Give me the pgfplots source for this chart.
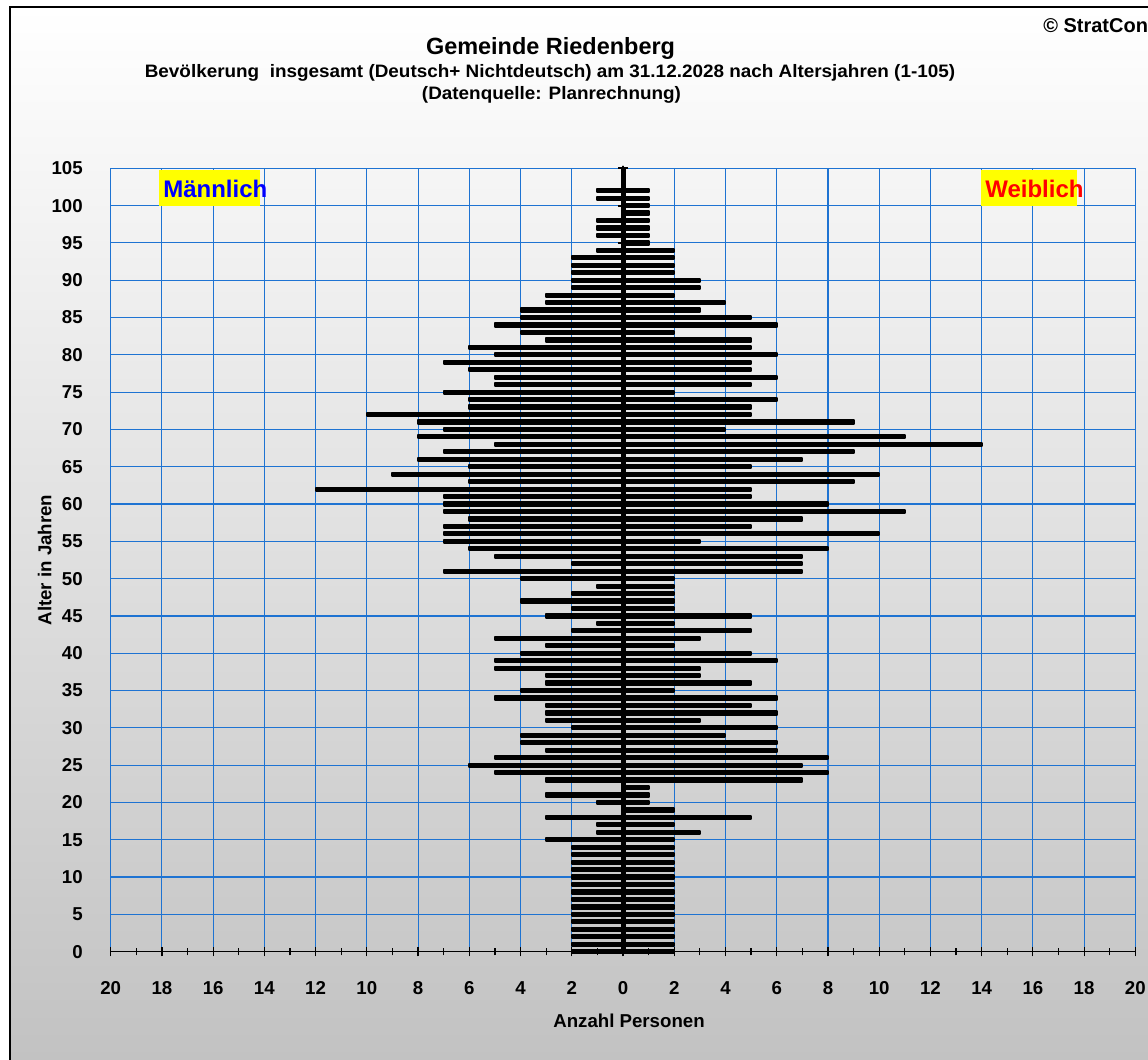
\documentclass[border=0pt]{standalone}
\usepackage{fontspec}
\setmainfont{Liberation Sans}
\usepackage{pgfplots}
\usepackage{pgfplotstable}
\pgfplotsset{compat=1.18}
\definecolor{gridblue}{RGB}{30,115,210}
\definecolor{bgbot}{RGB}{194,194,194}
\definecolor{manblue}{RGB}{0,0,255}
\definecolor{womred}{RGB}{255,0,0}
\definecolor{labyellow}{RGB}{255,255,0}

\pgfplotstableread{
age m f
0 2 2
1 2 2
2 2 2
3 2 2
4 2 2
5 2 2
6 2 2
7 2 2
8 2 2
9 2 2
10 2 2
11 2 2
12 2 2
13 2 2
14 2 2
15 3 2
16 1 3
17 1 2
18 3 5
19 0 2
20 1 1
21 3 1
22 0 1
23 3 7
24 5 8
25 6 7
26 5 8
27 3 6
28 4 6
29 4 4
30 2 6
31 3 3
32 3 6
33 3 5
34 5 6
35 4 2
36 3 5
37 3 3
38 5 3
39 5 6
40 4 5
41 3 2
42 5 3
43 2 5
44 1 2
45 3 5
46 2 2
47 4 2
48 2 2
49 1 2
50 4 2
51 7 7
52 2 7
53 5 7
54 6 8
55 7 3
56 7 10
57 7 5
58 6 7
59 7 11
60 7 8
61 7 5
62 12 5
63 6 9
64 9 10
65 6 5
66 8 7
67 7 9
68 5 14
69 8 11
70 7 4
71 8 9
72 10 5
73 6 5
74 6 6
75 7 2
76 5 5
77 5 6
78 6 5
79 7 5
80 5 6
81 6 5
82 3 5
83 4 2
84 5 6
85 4 5
86 4 3
87 3 4
88 3 2
89 2 3
90 2 3
91 2 2
92 2 2
93 2 2
94 1 2
95 0 1
96 1 1
97 1 1
98 1 1
99 0 1
100 0 1
101 1 1
102 1 1
103 0 0
104 0 0
105 0 0
}\pyramid

\begin{document}
\begin{tikzpicture}
\useasboundingbox (0,0) rectangle (861pt,794.25pt);
\clip (0,0) rectangle (861pt,794.25pt);
\fill[white] (0,0) rectangle (861pt,794.25pt);
\shade[top color=white, bottom color=bgbot] (7.5pt,-1pt) rectangle (870pt,789pt);
\draw[black, line width=2.2pt] (7.5pt,-5pt) -- (7.5pt,789pt) -- (870pt,789pt);

\begin{axis}[
  at={(83pt,80.5pt)}, anchor=south west,
  scale only axis, width=768.5pt, height=587.5pt,
  xmin=-20, xmax=20, ymin=0, ymax=105,
  axis x line*=bottom, axis y line*=left,
  y axis line style={draw=none},
  x axis line style={black, line width=1.1pt},
  xtick={-20,-18,...,20},
  xticklabels={20,18,16,14,12,10,8,6,4,2,0,2,4,6,8,10,12,14,16,18,20},
  minor x tick num=1,
  ytick={0,5,...,105},
  tick align=center,
  major tick length=7pt, minor tick length=5.5pt,
  xtick style={black, line width=0.9pt},
  ytick style={draw=none},
  grid=major,
  major grid style={gridblue, line width=0.85pt},
  /pgf/number format/assume math mode=true,
  tick label style={font=\bfseries\fontsize{14}{16}\selectfont},
  xticklabel style={anchor=north, inner sep=0pt, yshift=-18.5pt},
  yticklabel style={anchor=east, inner sep=0pt, xshift=-17.3pt},
  xlabel={Anzahl Personen},
  ylabel={Alter in Jahren},
  label style={font=\bfseries\fontsize{14}{16}\selectfont},
  xlabel style={at={(axis description cs:0.5,0)}, anchor=base, yshift=-57pt, xshift=4.5pt},
  ylabel style={at={(axis description cs:0,0.5)}, anchor=center, yshift=49.5pt},
  clip=false,
]
\addplot[xbar, bar width=2.4pt, bar shift=0pt, fill=black, draw=black, line width=1.5pt, line join=round]
  table[x expr=-\thisrow{m}, y=age] {\pyramid};
\addplot[xbar, bar width=2.4pt, bar shift=0pt, fill=black, draw=black, line width=1.5pt, line join=round]
  table[x=f, y=age] {\pyramid};
\addplot[black, line width=3.75pt] coordinates {(0,0) (0,105)};
\addplot[only marks, mark=-, mark size=4pt, mark options={black, line width=1.6pt}]
  coordinates {(0,0) (0,5) (0,10) (0,15) (0,20) (0,25) (0,30) (0,35) (0,40) (0,45) (0,50) (0,55) (0,60) (0,65) (0,70) (0,75) (0,80) (0,85) (0,90) (0,95) (0,100) (0,105)};
\end{axis}

\fill[labyellow] (119.25pt,639.75pt) rectangle (195pt,666.75pt);
\node[anchor=base west, inner sep=0pt, text=manblue, font=\bfseries\fontsize{18}{20}\selectfont] at (122.25pt,645.75pt) {Männlich};
\fill[labyellow] (735.75pt,639.75pt) rectangle (807.75pt,666.75pt);
\node[anchor=base west, inner sep=0pt, text=womred, font=\bfseries\fontsize{18}{20}\selectfont] at (738.75pt,645.75pt) {Weiblich};

\node[anchor=base, inner sep=0pt, font=\bfseries\fontsize{17.6}{20}\selectfont] at (412.9pt,753pt) {Gemeinde Riedenberg};
\node[anchor=base, inner sep=0pt, font=\bfseries\fontsize{13.5}{16}\selectfont, xscale=1.05] at (412.5pt,736.1pt) {Bevölkerung\ \ insgesamt (Deutsch+ Nichtdeutsch) am 31.12.2028 nach Altersjahren (1-105)};
\node[anchor=base, inner sep=0pt, font=\bfseries\fontsize{13.5}{16}\selectfont, xscale=1.05] at (413.6pt,719.25pt) {(Datenquelle: Planrechnung)};
\node[anchor=base west, inner sep=0pt, font=\bfseries\fontsize{15}{18}\selectfont] at (782.25pt,769.5pt) {© StratCon};
\end{tikzpicture}
\end{document}
